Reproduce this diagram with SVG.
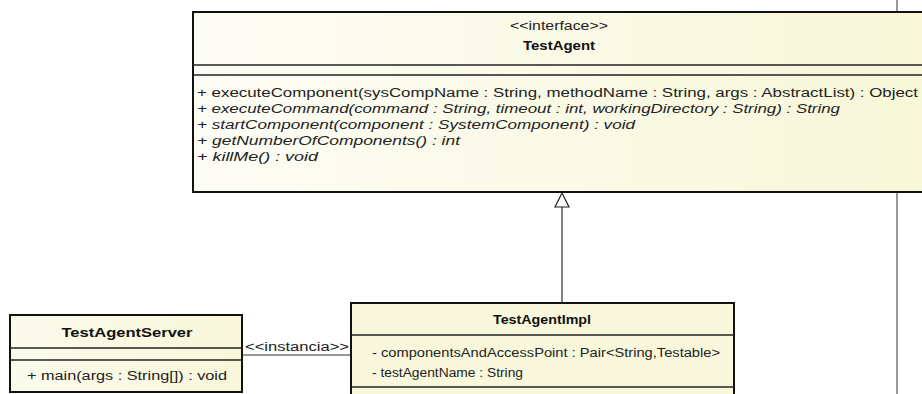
<svg xmlns="http://www.w3.org/2000/svg" width="922" height="394" viewBox="0 0 922 394">
<style>
.box{stroke:#111;stroke-width:2;}
.div{stroke:#222;stroke-width:1.5;fill:none;}
.t{font-family:"Liberation Sans",Arial,sans-serif;font-size:12px;fill:#222;}
.b{font-weight:bold;fill:#111;}
.i{font-style:italic;}
.conn{stroke:#333;stroke-width:1.2;fill:none;}
</style>
<defs>
<linearGradient id="fillA" x1="0" y1="0" x2="1" y2="0">
<stop offset="0" stop-color="#FDFDF6"/>
<stop offset="1" stop-color="#F8F7D8"/>
</linearGradient>
<linearGradient id="fillB" x1="0" y1="0" x2="1" y2="0">
<stop offset="0" stop-color="#FBFBEC"/>
<stop offset="1" stop-color="#F8F7DA"/>
</linearGradient>
</defs>
<rect width="922" height="394" fill="#FFFFFF"/>
<line x1="897" y1="0" x2="897" y2="394" stroke="#555" stroke-width="1.2"/>

<g id="TestAgent">
<rect class="box" x="193" y="12" width="740" height="180" fill="url(#fillA)"/>
<line class="div" x1="193" y1="65" x2="933" y2="65"/>
<line class="div" x1="193" y1="75" x2="933" y2="75"/>
<text class="t" x="559" y="30" text-anchor="middle" textLength="98" lengthAdjust="spacingAndGlyphs">&lt;&lt;interface&gt;&gt;</text>
<text class="t b" x="559" y="50" text-anchor="middle" textLength="72" lengthAdjust="spacingAndGlyphs">TestAgent</text>
<text class="t" x="197" y="97" textLength="721" lengthAdjust="spacingAndGlyphs">+ executeComponent(sysCompName : String, methodName : String, args : AbstractList) : Object</text>
<text class="t i" x="197" y="113" textLength="643" lengthAdjust="spacingAndGlyphs">+ executeCommand(command : String, timeout : int, workingDirectory : String) : String</text>
<text class="t i" x="197" y="129" textLength="438" lengthAdjust="spacingAndGlyphs">+ startComponent(component : SystemComponent) : void</text>
<text class="t i" x="197" y="145" textLength="263" lengthAdjust="spacingAndGlyphs">+ getNumberOfComponents() : int</text>
<text class="t i" x="197" y="161" textLength="121" lengthAdjust="spacingAndGlyphs">+ killMe() : void</text>
</g>

<g id="TestAgentServer">
<rect class="box" x="10" y="315" width="232" height="77" fill="url(#fillB)"/>
<line class="div" x1="10" y1="348" x2="242" y2="348"/>
<line class="div" x1="10" y1="360" x2="242" y2="360"/>
<text class="t b" x="127" y="337" text-anchor="middle" textLength="131" lengthAdjust="spacingAndGlyphs">TestAgentServer</text>
<text class="t" x="27" y="380" textLength="200" lengthAdjust="spacingAndGlyphs">+ main(args : String[]) : void</text>
</g>

<g id="TestAgentImpl">
<rect class="box" x="351" y="303" width="383" height="100" fill="#F9F8DC"/>
<line class="div" x1="351" y1="335" x2="734" y2="335"/>
<line class="div" x1="351" y1="387" x2="734" y2="387"/>
<text class="t b" x="542" y="324" text-anchor="middle" textLength="98" lengthAdjust="spacingAndGlyphs">TestAgentImpl</text>
<text class="t" x="372" y="357" textLength="348" lengthAdjust="spacingAndGlyphs">- componentsAndAccessPoint : Pair&lt;String,Testable&gt;</text>
<text class="t" x="372" y="377" textLength="151" lengthAdjust="spacingAndGlyphs">- testAgentName : String</text>
</g>

<g id="connectors">
<line class="conn" x1="562" y1="207" x2="562" y2="303"/>
<polygon points="562,193 555,207 569,207" fill="#FFFFFF" stroke="#222" stroke-width="1.2"/>
<line class="conn" x1="242" y1="355" x2="351" y2="355"/>
<text class="t" x="245" y="351" textLength="104" lengthAdjust="spacingAndGlyphs">&lt;&lt;instancia&gt;&gt;</text>
</g>
</svg>
